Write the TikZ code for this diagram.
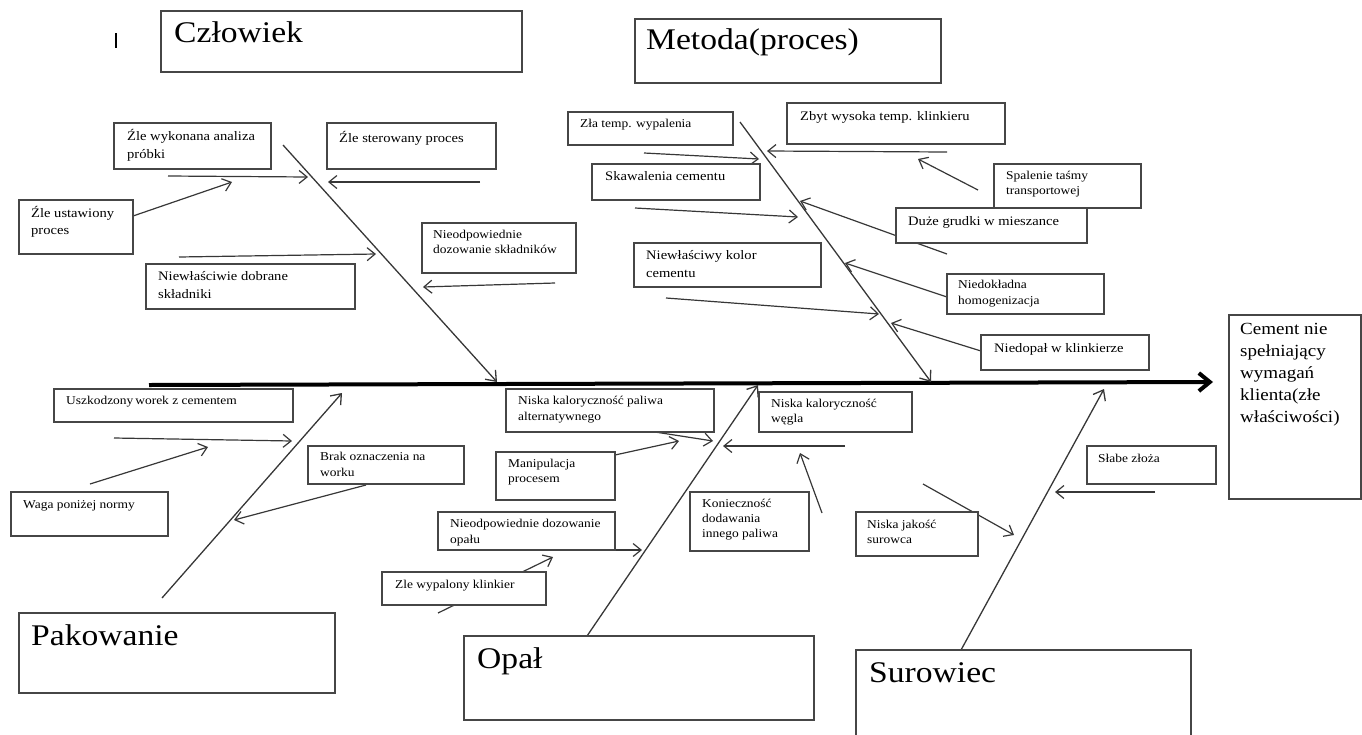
\documentclass[tikz,border=0pt]{standalone}
\usepackage{fontspec}
\setmainfont{Liberation Serif}[FakeStretch=1.12]
\usetikzlibrary{arrows.meta,fit}
\definecolor{linec}{RGB}{55,55,55}
\definecolor{boxc}{RGB}{70,70,70}
\newcommand\twoln[2]{\vtop{\hbox{#1}\hbox{#2}}}
\newcommand\threeln[3]{\vtop{\hbox{#1}\hbox{#2}\hbox{#3}}}
\tikzset{
  cbox/.style={draw=boxc, line width=1.3pt, fill=white, inner sep=0pt, rectangle},
  conn/.style={draw=linec, line width=1.2pt, -{Straight Barb[length=8pt,width=13pt]}},
  bone/.style={draw=linec, line width=1.3pt, -{Straight Barb[length=9pt,width=14pt]}},
  spine/.style={draw=black, line width=4pt, -{Straight Barb[length=11pt,width=18pt]}},
  lbl/.style={anchor=base west, inner sep=0pt, text=black},
  tsmall/.style={lbl, font=\fontsize{12}{16}\selectfont},
  tsmallb/.style={lbl, font=\fontsize{12}{15}\selectfont},
  tmed/.style={lbl, font=\fontsize{13}{18}\selectfont},
  tbig/.style={lbl, font=\fontsize{30}{36}\selectfont},
  tres/.style={lbl, font=\fontsize{17}{22}\selectfont},
}
\begin{document}
\begin{tikzpicture}[x=1pt, y=-1pt]
\useasboundingbox (0,0) rectangle (1362,734);

% stray mark near the top
\draw[line width=2.2pt] (116,33) -- (116,48);

% ---------- free ends of all connectors ----------
% spine
\coordinate (sp0) at (149,385);  \coordinate (sp1) at (1213,382);
% main bones
\coordinate (czl0) at (283,145); \coordinate (czl1) at (497,382);
\coordinate (met0) at (740,122); \coordinate (met1) at (931,382);
\coordinate (pak0) at (162,598); \coordinate (pak1) at (342,393);
\coordinate (opa0) at (587,636); \coordinate (opa1) at (758,385);
\coordinate (sur0) at (961,650); \coordinate (sur1) at (1104,389);
% Człowiek branch
\coordinate (a1s) at (168,176); \coordinate (a1e) at (308,177);
\coordinate (a2s) at (480,182); \coordinate (a2e) at (328,182);
\coordinate (a3s) at (133,216); \coordinate (a3e) at (232,182);
\coordinate (a4s) at (555,283); \coordinate (a4e) at (423,287);
\coordinate (a5s) at (179,257); \coordinate (a5e) at (376,254);
% Metoda branch
\coordinate (b1s) at (644,153); \coordinate (b1e) at (759,159);
\coordinate (b2s) at (947,152); \coordinate (b2e) at (767,151);
\coordinate (b4s) at (978,190); \coordinate (b4e) at (918,159);
\coordinate (b3s) at (635,208); \coordinate (b3e) at (798,217);
\coordinate (b5s) at (947,254); \coordinate (b5e) at (800,201);
\coordinate (b6s) at (666,298); \coordinate (b6e) at (879,314);
\coordinate (b7s) at (947,297); \coordinate (b7e) at (845,263);
\coordinate (b8s) at (981,351); \coordinate (b8e) at (891,323);
% Pakowanie branch
\coordinate (c1s) at (114,438); \coordinate (c1e) at (292,441);
\coordinate (c2s) at (90,484);  \coordinate (c2e) at (208,447);
\coordinate (c3s) at (366,485); \coordinate (c3e) at (234,520);
% Opał branch
\coordinate (d1s) at (655,432); \coordinate (d1e) at (713,441);
\coordinate (d2s) at (615,455); \coordinate (d2e) at (679,441);
\coordinate (d3s) at (600,550); \coordinate (d3e) at (642,550);
\coordinate (d4s) at (438,613); \coordinate (d4e) at (553,557);
\coordinate (d5s) at (845,446); \coordinate (d5e) at (723,446);
\coordinate (d6s) at (822,513); \coordinate (d6e) at (800,453);
% Surowiec branch
\coordinate (e1s) at (923,484);  \coordinate (e1e) at (1014,535);
\coordinate (e2s) at (1155,492); \coordinate (e2e) at (1055,492);

% ---------- connectors (boxes are drawn over them) ----------
\draw[spine] (sp0) -- (sp1);
\draw[bone] (czl0) -- (czl1);
\draw[bone] (met0) -- (met1);
\draw[bone] (pak0) -- (pak1);
\draw[bone] (opa0) -- (opa1);
\draw[bone] (sur0) -- (sur1);
\foreach \c in {a1,a2,a3,a4,a5,b1,b2,b3,b4,b5,b6,b7,b8,c1,c2,c3,d1,d2,d3,d4,d5,d6,e1,e2}
  \draw[conn] (\c s) -- (\c e);

% ---------- category boxes ----------
\node[cbox, fit={(161,11) (522,72)}] (czl) {};
\node[tbig] (czlt) at (174,42) {Człowiek};
\node[cbox, fit={(635,19) (941,83)}] (met) {};
\node[tbig] (mett) at (646,49) {Metoda(proces)};
\node[cbox, fit={(19,613) (335,693)}] (pak) {};
\node[tbig] (pakt) at (31,645) {Pakowanie};
\node[cbox, fit={(464,636) (814,720)}] (opa) {};
\node[tbig] (opat) at (477,668) {Opał};
\node[cbox, fit={(856,650) (1191,745)}] (sur) {};
\node[tbig] (surt) at (869,682) {Surowiec};

% ---------- effect ----------
\node[cbox, fit={(1229,315) (1361,499)}] (eff) {};
\node[tres] (efft) at (1240,334) {\vtop{\hbox{Cement nie}\hbox{spełniający}\hbox{wymagań}\hbox{klienta(złe}\hbox{właściwości)}}};

% ---------- Człowiek causes ----------
\node[cbox, fit={(114,123) (271,169)}] (a1) {};
\node[tmed] (a1t) at (127,140) {\twoln{Źle wykonana analiza}{próbki}};
\node[cbox, fit={(327,123) (496,169)}] (a2) {};
\node[tmed] (a2t) at (339,142) {Źle sterowany proces};
\node[cbox, fit={(19,200) (133,254)}] (a3) {};
\node[tmed, font=\fontsize{13}{17}\selectfont] (a3t) at (31,217) {\twoln{Źle ustawiony}{proces}};
\node[cbox, fit={(422,223) (576,273)}] (a4) {};
\node[tsmallb] (a4t) at (433,238) {\twoln{Nieodpowiednie}{dozowanie składników}};
\node[cbox, fit={(146,264) (355,309)}] (a5) {};
\node[tmed] (a5t) at (158,280) {\twoln{Niewłaściwie dobrane}{składniki}};

% ---------- Metoda causes ----------
\node[cbox, fit={(568,112) (733,145)}] (b1) {};
\node[tsmall] (b1t) at (580,127) {Zła temp. wypalenia};
\node[cbox, fit={(787,103) (1005,144)}] (b2) {};
\node[tmed] (b2t) at (800,120) {Zbyt wysoka temp. klinkieru};
\node[cbox, fit={(592,164) (760,200)}] (b3) {};
\node[tmed] (b3t) at (605,180) {Skawalenia cementu};
\node[cbox, fit={(994,164) (1141,208)}] (b4) {};
\node[tsmallb] (b4t) at (1006,179) {\twoln{Spalenie taśmy}{transportowej}};
\node[cbox, fit={(896,208) (1087,243)}] (b5) {};
\node[tmed] (b5t) at (908,225) {Duże grudki w mieszance};
\node[cbox, fit={(634,243) (821,287)}] (b6) {};
\node[tmed] (b6t) at (646,259) {\twoln{Niewłaściwy kolor}{cementu}};
\node[cbox, fit={(947,274) (1104,314)}] (b7) {};
\node[tsmall] (b7t) at (958,288) {\twoln{Niedokładna}{homogenizacja}};
\node[cbox, fit={(981,335) (1149,370)}] (b8) {};
\node[tmed] (b8t) at (994,352) {Niedopał w klinkierze};

% ---------- Pakowanie causes ----------
\node[cbox, fit={(54,389) (293,422)}] (c1) {};
\node[tsmall] (c1t) at (66,404) {Uszkodzony\,worek z cementem};
\node[cbox, fit={(11,492) (168,536)}] (c2) {};
\node[tsmall] (c2t) at (23,508) {Waga poniżej normy};
\node[cbox, fit={(308,446) (464,484)}] (c3) {};
\node[tsmall] (c3t) at (320,460) {\twoln{Brak oznaczenia na}{worku}};

% ---------- Opał causes ----------
\node[cbox, fit={(506,389) (714,432)}] (d1) {};
\node[tsmall] (d1t) at (518,404) {\twoln{Niska kaloryczność paliwa}{alternatywnego}};
\node[cbox, fit={(496,452) (615,500)}] (d2) {};
\node[tsmallb] (d2t) at (508,467) {\twoln{Manipulacja}{procesem}};
\node[cbox, fit={(438,512) (615,550)}] (d3) {};
\node[tsmall] (d3t) at (450,527) {\twoln{Nieodpowiednie dozowanie}{opału}};
\node[cbox, fit={(382,572) (546,605)}] (d4) {};
\node[tsmall] (d4t) at (395,588) {Zle wypalony klinkier};
\node[cbox, fit={(759,392) (912,432)}] (d5) {};
\node[tsmallb] (d5t) at (771,407) {\twoln{Niska kaloryczność}{węgla}};
\node[cbox, fit={(690,492) (809,551)}] (d6) {};
\node[tsmallb] (d6t) at (702,507) {\threeln{Konieczność}{dodawania}{innego paliwa}};

% ---------- Surowiec causes ----------
\node[cbox, fit={(856,512) (978,556)}] (e1) {};
\node[tsmallb] (e1t) at (867,528) {\twoln{Niska jakość}{surowca}};
\node[cbox, fit={(1087,446) (1216,484)}] (e2) {};
\node[tsmall] (e2t) at (1098,462) {Słabe złoża};
\end{tikzpicture}
\end{document}
